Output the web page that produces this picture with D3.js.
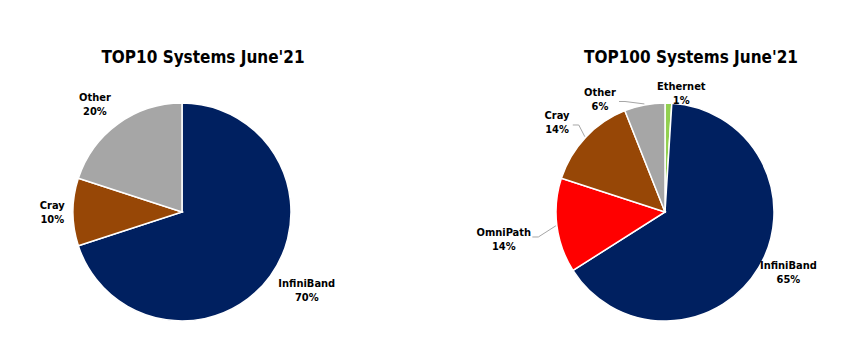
<!DOCTYPE html>
<html>
<head>
<meta charset="utf-8">
<script src="https://cdn.jsdelivr.net/npm/d3@7"></script>
<style>
  body { margin: 0; background: #fff; }
  text { font-family: "DejaVu Sans Condensed", "DejaVu Sans", sans-serif; font-weight: bold; fill: #000; }
</style>
</head>
<body>
<div id="chart"></div>
<script>
// TOP10 chart
const top10Names = ["InfiniBand", "Cray", "Other"];
const top10Values = [70, 10, 20];
const top10Colors = ["#002060", "#974706", "#a6a6a6"];

// TOP100 chart
const top100Names = ["Ethernet", "InfiniBand", "OmniPath", "Cray", "Other"];
const top100Values = [1, 65, 14, 14, 6];
const top100Colors = ["#92d050", "#002060", "#ff0000", "#974706", "#a6a6a6"];

const width = 852;
const height = 348;
const radius = 109;

const svg = d3.select("#chart").append("svg")
  .attr("width", width)
  .attr("height", height);

// label placement: distance factor, angle nudge (deg), leader line
const charts = [
  { title: "TOP10 Systems June'21", names: top10Names, values: top10Values, colors: top10Colors,
    cx: 182, cy: 212, titleX: 203,
    labels: [{ k: 1.35, da: -4 }, { k: 1.19, da: 0 }, { k: 1.27, da: -3 }] },
  { title: "TOP100 Systems June'21", names: top100Names, values: top100Values, colors: top100Colors,
    cx: 665, cy: 212, titleX: 691,
    labels: [{ k: 1.1, da: 6 }, { k: 1.26, da: -4.6 }, { k: 1.5, da: -2.3, leader: true },
             { k: 1.29, da: -3.4, leader: true }, { k: 1.2, da: -19, leader: true }] }
];

const pie = d3.pie().sort(null).value(d => d.value);
const arc = d3.arc().innerRadius(0).outerRadius(radius);

charts.forEach(c => {
  const data = c.names.map((n, i) => ({ name: n, value: c.values[i], color: c.colors[i] }));
  const arcs = pie(data);
  const g = svg.append("g").attr("transform", `translate(${c.cx},${c.cy})`);

  svg.append("text")
    .attr("x", c.titleX)
    .attr("y", 63)
    .attr("text-anchor", "middle")
    .style("font-size", "17px")
    .text(c.title);

  g.selectAll("path.slice")
    .data(arcs)
    .join("path")
    .attr("class", "slice")
    .attr("d", arc)
    .attr("fill", d => d.data.color)
    .attr("stroke", "#fff")
    .attr("stroke-width", 1.5);

  arcs.forEach((d, i) => {
    const L = c.labels[i];
    const mid = (d.startAngle + d.endAngle) / 2;
    const a = mid + L.da * Math.PI / 180;
    const r = radius * L.k;
    const x = Math.sin(a) * r;
    const y = -Math.cos(a) * r;

    if (L.leader) {
      const ex = Math.sin(mid) * (radius + 1);
      const ey = -Math.cos(mid) * (radius + 1);
      const side = x < 0 ? 1 : -1;
      const halfW = d.data.name.length * 3.2 + 3;
      const sx = x + side * halfW;
      const sy = y + (d.data.name === "OmniPath" ? -2 : 3);
      g.append("polyline")
        .attr("points", `${sx},${sy} ${sx + side * 6},${sy} ${ex},${ey}`)
        .attr("fill", "none")
        .attr("stroke", "#a6a6a6")
        .attr("stroke-width", 1);
    }

    const t = g.append("text")
      .attr("text-anchor", "middle")
      .style("font-size", "11px");
    t.append("tspan").attr("x", x).attr("y", y - 3).text(d.data.name);
    t.append("tspan").attr("x", x).attr("y", y + 11).text(d.data.value + "%");
  });
});
</script>
</body>
</html>
